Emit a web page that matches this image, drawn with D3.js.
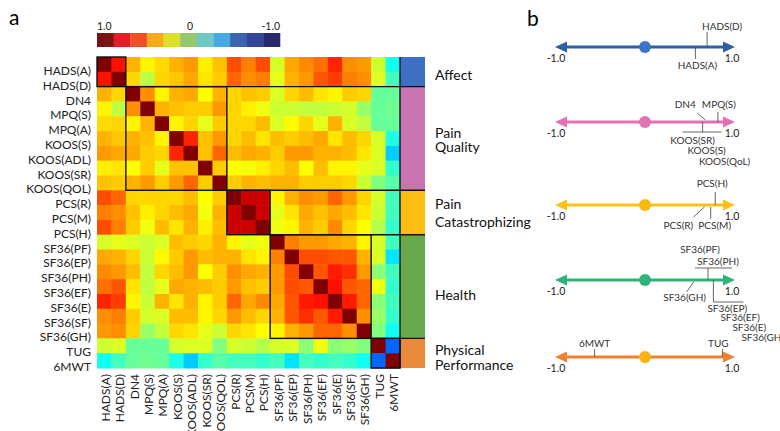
<!DOCTYPE html>
<html>
<head>
<meta charset="utf-8">
<script src="https://cdn.jsdelivr.net/npm/d3@7"></script>
<style>
  body { margin: 0; background: #fff; }
  svg { display: block; font-family: Lato, "Open Sans", sans-serif; }
</style>
</head>
<body>
<div id="chart"></div>
<script>
// variables of the correlation matrix (row / column order)
var vars = ["HADS(A)", "HADS(D)", "DN4", "MPQ(S)", "MPQ(A)", "KOOS(S)", "KOOS(ADL)", "KOOS(SR)",
  "KOOS(QOL)", "PCS(R)", "PCS(M)", "PCS(H)", "SF36(PF)", "SF36(EP)", "SF36(PH)", "SF36(EF)",
  "SF36(E)", "SF36(SF)", "SF36(GH)", "TUG", "6MWT"];

// upper triangle of the correlation matrix, row i holds columns i+1 .. 20
var corrUpper = [
  [0.72, 0.4, 0.27, 0.32, 0.4, 0.45, 0.28, 0.37, 0.6, 0.5, 0.6, 0.17, 0.42, 0.48, 0.53, 0.68, 0.47, 0.45, 0.15, -0.22],
  [0.33, 0.12, 0.33, 0.36, 0.42, 0.3, 0.35, 0.55, 0.47, 0.5, 0.2, 0.4, 0.45, 0.58, 0.63, 0.5, 0.47, 0.18, -0.12],
  [0.47, 0.27, 0.4, 0.42, 0.25, 0.4, 0.33, 0.37, 0.35, 0.18, 0.33, 0.38, 0.3, 0.27, 0.35, 0.33, -0.05, -0.05],
  [0.4, 0.37, 0.35, 0.35, 0.45, 0.33, 0.28, 0.22, 0.15, 0.15, 0.13, 0.13, 0.15, 0.17, 0.05, -0.05, -0.03],
  [0.27, 0.33, 0.2, 0.35, 0.33, 0.33, 0.38, 0.18, 0.26, 0.33, 0.2, 0.4, 0.18, 0.13, -0.05, -0.05],
  [0.68, 0.37, 0.45, 0.33, 0.38, 0.3, 0.38, 0.35, 0.38, 0.42, 0.3, 0.38, 0.33, 0.17, -0.2],
  [0.37, 0.55, 0.38, 0.42, 0.4, 0.35, 0.45, 0.45, 0.4, 0.4, 0.38, 0.3, 0.18, -0.35],
  [0.35, 0.25, 0.23, 0.28, 0.33, 0.38, 0.25, 0.38, 0.27, 0.27, 0.2, 0.18, -0.15],
  [0.35, 0.4, 0.38, 0.4, 0.4, 0.35, 0.35, 0.35, 0.33, 0.15, 0.0, -0.08],
  [0.85, 0.85, 0.27, 0.4, 0.47, 0.45, 0.55, 0.45, 0.33, 0.17, -0.12],
  [0.85, 0.2, 0.3, 0.42, 0.37, 0.42, 0.38, 0.3, 0.15, -0.12],
  [0.22, 0.27, 0.4, 0.35, 0.48, 0.33, 0.25, 0.1, -0.15],
  [0.5, 0.45, 0.45, 0.42, 0.4, 0.27, 0.17, -0.12],
  [0.6, 0.6, 0.58, 0.58, 0.4, 0.18, -0.3],
  [0.58, 0.7, 0.66, 0.45, 0.02, -0.12],
  [0.72, 0.58, 0.55, 0.22, -0.15],
  [0.7, 0.55, 0.02, -0.12],
  [0.47, 0.05, -0.15],
  [0.0, -0.22],
  [-0.55]
];

// groups of variables
var groupLabels = [["Affect"], ["Pain", "Quality"], ["Pain", "Catastrophizing"], ["Health"], ["Physical", "Performance"]];
var groupStart = [0, 2, 9, 12, 19];
var groupEnd = [1, 8, 11, 18, 20];
var groupColors = ["#3f6fc3", "#c774b1", "#fdbd13", "#6aa84e", "#ec8a3c"];

// colour bar
var legendColors = ["#7a1416", "#e41e26", "#ef5126", "#f9ab1b", "#dce028", "#96c86e",
  "#6ec8c3", "#44aae1", "#3c64af", "#32469b", "#28286e"];
var legendTicks = ["1.0", "0", "-1.0"];

// panel b: positions of the measures on each group line
var bItems = [
  [{ name: "HADS(D)", v: 0.69 }, { name: "HADS(A)", v: 0.56 }],
  [{ name: "DN4", v: 0.67 }, { name: "MPQ(S)", v: 0.81 }, { name: "KOOS(SR)", v: 0.64 }, { name: "KOOS(S)", v: 0.64 }, { name: "KOOS(QoL)", v: 0.64 }],
  [{ name: "PCS(H)", v: 0.78 }, { name: "PCS(M)", v: 0.73 }, { name: "PCS(R)", v: 0.66 }],
  [{ name: "SF36(PF)", v: 0.70 }, { name: "SF36(PH)", v: 0.70 }, { name: "SF36(GH)", v: 0.54 },
   { name: "SF36(EP)", v: 0.76 }, { name: "SF36(EF)", v: 0.76 }, { name: "SF36(E)", v: 0.76 }, { name: "SF36(GH)", v: 0.76 }],
  [{ name: "6MWT", v: -0.56 }, { name: "TUG", v: 0.86 }]
];
var bLineColors = ["#2d5fa6", "#e571b5", "#f8c318", "#2db477", "#ef8230"];
var bDotColors = ["#3b74c9", "#e571b5", "#f9b80f", "#2db477", "#fbb316"];

var width = 780, height = 431;

var svg = d3.select("#chart").append("svg")
    .attr("width", width)
    .attr("height", height);

// *** HEATMAP *** //

var jet = function(v) {
  var t = (v + 1) / 2;
  var c = function(x) { return Math.max(0, Math.min(1, x)) * 255; };
  return d3.rgb(c(1.5 - Math.abs(4 * t - 3)), c(1.5 - Math.abs(4 * t - 2)), c(1.5 - Math.abs(4 * t - 1)));
};

var corr = function(i, j) {
  if (i == j) return 1;
  if (i > j) { var k = i; i = j; j = k; }
  return corrUpper[i][j - i - 1];
};

var x = d3.scaleBand().domain(vars).range([97, 400]);
var y = d3.scaleBand().domain(vars).range([57, 368]);
var bw = x.bandwidth(), bh = y.bandwidth();

var cells = [];
for (var i = 0; i < vars.length; i++) {
  for (var j = 0; j < vars.length; j++) {
    cells.push({ r: i, c: j, v: corr(i, j) });
  }
}

svg.append("g").selectAll("rect")
  .data(cells)
  .enter().append("rect")
    .attr("x", function(d) { return x(vars[d.c]); })
    .attr("y", function(d) { return y(vars[d.r]); })
    .attr("width", bw + 0.5)
    .attr("height", bh + 0.5)
    .attr("fill", function(d) { return jet(d.v); });

// category strip
var stripX = 400, stripW = 25;
svg.append("g").selectAll("rect")
  .data(groupStart)
  .enter().append("rect")
    .attr("x", stripX)
    .attr("y", function(d) { return y(vars[d]); })
    .attr("width", stripW)
    .attr("height", function(d, i) { return y(vars[groupEnd[i]]) + bh - y(vars[d]); })
    .attr("fill", function(d, i) { return groupColors[i]; });

// block outlines
var lines = svg.append("g").attr("stroke", "#111").attr("stroke-width", 1.4).attr("fill", "none");
for (var g = 0; g < groupStart.length; g++) {
  var x0 = x(vars[groupStart[g]]), x1 = x(vars[groupEnd[g]]) + bw;
  var y0 = y(vars[groupStart[g]]), y1 = y(vars[groupEnd[g]]) + bh;
  lines.append("rect").attr("x", x0).attr("y", y0).attr("width", x1 - x0).attr("height", y1 - y0);
  if (g < groupStart.length - 1) {
    lines.append("line").attr("x1", x1).attr("x2", stripX + stripW).attr("y1", y1).attr("y2", y1);
  }
}
lines.append("line").attr("x1", stripX).attr("x2", stripX).attr("y1", y.range()[0]).attr("y2", y.range()[1]);

// row labels
svg.append("g").selectAll("text")
  .data(vars)
  .enter().append("text")
    .attr("x", 91)
    .attr("y", function(d) { return y(d) + bh / 2 + 10.5; })
    .attr("text-anchor", "end")
    .attr("font-size", 12)
    .attr("fill", "#222")
    .text(function(d) { return d; });

// column labels
svg.append("g").selectAll("text")
  .data(vars)
  .enter().append("text")
    .attr("transform", function(d) { return "translate(" + (x(d) + bw / 2 + 5.5) + ",374) rotate(-90)"; })
    .attr("text-anchor", "end")
    .attr("font-size", 12)
    .attr("fill", "#222")
    .text(function(d) { return d; });

// group labels
var labelShift = [3, 2, 0, 8, 4];
var labelLead = [15, 14, 18, 15, 15];
for (var g = 0; g < groupLabels.length; g++) {
  var yc = (y(vars[groupStart[g]]) + y(vars[groupEnd[g]]) + bh) / 2 + labelShift[g];
  var n = groupLabels[g].length;
  svg.append("g").selectAll("text")
    .data(groupLabels[g])
    .enter().append("text")
      .attr("x", 435)
      .attr("y", function(d, k) { return yc - (n - 1) * labelLead[g] / 2 + k * labelLead[g] + 5; })
      .attr("font-size", 14)
      .attr("fill", "#111")
      .text(function(d) { return d; });
}

// colour bar
var lx = d3.scaleBand().domain(d3.range(legendColors.length)).range([97, 280]);
svg.append("g").selectAll("rect")
  .data(legendColors)
  .enter().append("rect")
    .attr("x", function(d, i) { return lx(i); })
    .attr("y", 33)
    .attr("width", lx.bandwidth() + 0.3)
    .attr("height", 14)
    .attr("fill", function(d) { return d; });
svg.append("g").selectAll("text")
  .data(legendTicks)
  .enter().append("text")
    .attr("x", function(d, i) { return [97, 190, 280][i]; })
    .attr("y", 30)
    .attr("text-anchor", function(d, i) { return ["start", "middle", "end"][i]; })
    .attr("font-size", 10.5)
    .attr("fill", "#222")
    .text(function(d) { return d; });

svg.append("text").attr("x", 9).attr("y", 25).attr("font-size", 21).text("a");
svg.append("text").attr("x", 527).attr("y", 26).attr("font-size", 21).text("b");

// *** PANEL B *** //

var xb = d3.scaleLinear().domain([-1, 1]).range([555, 735]);
var bLineY = [47, 122, 205, 280, 357];

// leader / label layout of each measure: [leader path in (dx, dy) from value point, label dx, label dy, anchor]
var bLayout = [
  [[[0, 0, 0, -15], 15, -17, "middle"], [[0, 0, 0, 12], 2, 22, "middle"]],
  [[[0, -2, -8, -9], -20, -14, "middle"], [[0, 0, 0, -10], 1, -14, "middle"],
   [[0, 0, 0, 10, -20, 10, 19, 10], -10, 21.5, "middle"], [null, 4, 32, "middle"], [null, 22, 42.5, "middle"]],
  [[[0, 0, 0, -13], -3, -18, "middle"], [[0, 2, 0, 14], 4, 24, "middle"], [[0, 2, -11, 12], -26, 24, "middle"]],
  [[[0, 0, 0, -12, -13, -12, 24, -12], -8, -27, "middle"], [null, 10, -15.5, "middle"],
   [[0, 2, -7, 12], -9, 20.5, "middle"],
   [[0, 0, 0, 22, 30, 22], -6, 31.5, "start"], [null, 7, 41, "start"], [null, 19, 50.5, "start"], [null, 28, 60.5, "start"]],
  [[[0, 0, 0, -8], 0, -10.5, "middle"], [[0, 0, 0, -8], -4, -10.5, "middle"]]
];

for (var r = 0; r < bItems.length; r++) {
  var ly = bLineY[r];
  var gb = svg.append("g");
  var xl = xb(-1), xr = xb(1), ah = 12, aw = 5.5;
  gb.append("line")
      .attr("x1", xl + ah - 1).attr("x2", xr - ah + 1).attr("y1", ly).attr("y2", ly)
      .attr("stroke", bLineColors[r]).attr("stroke-width", 3);
  gb.append("path")
      .attr("d", "M" + xl + "," + ly + "L" + (xl + ah) + "," + (ly - aw) + "L" + (xl + ah) + "," + (ly + aw) + "Z" +
                 "M" + xr + "," + ly + "L" + (xr - ah) + "," + (ly - aw) + "L" + (xr - ah) + "," + (ly + aw) + "Z")
      .attr("fill", bLineColors[r]);
  gb.append("circle").attr("cx", xb(0)).attr("cy", ly).attr("r", 6).attr("fill", bDotColors[r]);
  gb.append("text").attr("x", xl + 1).attr("y", ly + 15).attr("text-anchor", "middle")
      .attr("font-size", 10.5).attr("fill", "#222").text("-1.0");
  gb.append("text").attr("x", xr - 3).attr("y", ly + 15).attr("text-anchor", "middle")
      .attr("font-size", 10.5).attr("fill", "#222").text("1.0");

  bItems[r].forEach(function(item, k) {
    var lay = bLayout[r][k];
    var vx = xb(item.v);
    if (lay[0]) {
      var p = lay[0], pts = [];
      for (var m = 0; m < p.length; m += 2) pts.push([vx + p[m], ly + p[m + 1]]);
      var d = "M" + pts[0] + "L" + pts[1];
      if (pts.length > 2) d += "M" + pts[2] + "L" + pts[3 % pts.length];
      if (pts.length == 3) d = "M" + pts[0] + "L" + pts[1] + "L" + pts[2];
      gb.append("path").attr("d", d).attr("stroke", "#555").attr("stroke-width", 0.9).attr("fill", "none");
    }
    gb.append("text")
        .attr("x", vx + lay[1])
        .attr("y", ly + lay[2])
        .attr("text-anchor", lay[3])
        .attr("font-size", 10)
        .attr("fill", "#333")
        .text(item.name);
  });
}
</script>
</body>
</html>
